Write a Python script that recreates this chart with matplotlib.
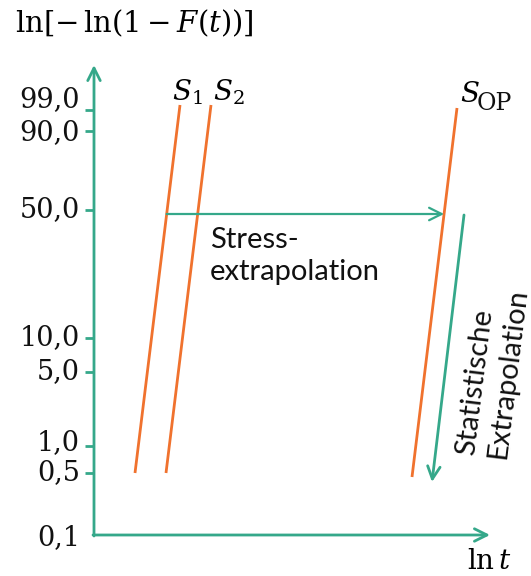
import matplotlib
matplotlib.use("Agg")
import matplotlib.pyplot as plt
import numpy as np

plt.rcParams["mathtext.fontset"] = "dejavuserif"

GREEN = "#35A88A"
ORANGE = "#F0722E"

# Schematic Weibull-paper levels (failure probability in %) and their heights on the axis
tick_labels = ["99,0", "90,0", "50,0", "10,0", "5,0", "1,0", "0,5", "0,1"]
tick_levels = [425, 404, 325, 197, 163, 89, 62, 0]
# small vertical nudges so crowded labels stay apart
label_nudge = [10, -2, 0, 0, 0, 3, 0, -3]

# Straight Weibull lines: (ln t at bottom, ln t at top), (level at bottom, level at top)
line_names = [r"$S_1$", r"$S_2$", "OP"]
line_x = [(41, 86), (72, 117), (318, 363)]
line_y = [(62, 430), (62, 430), (58, 427)]

# Stress extrapolation level and statistical extrapolation arrow
stress_level = 321
stat_x = (370, 338)
stat_y = (320, 53)

# Axis extents
x_end = 396
y_end = 470

fig = plt.figure(figsize=(5.31, 5.76), dpi=100)
ax = fig.add_axes([0, 0, 1, 1])
ax.set_xlim(-94, 531 - 94)
ax.set_ylim(-41, 535)
ax.axis("off")

arrow_kw = dict(arrowstyle="->,head_length=0.9,head_width=0.45", color=GREEN,
                lw=2.0, shrinkA=0, shrinkB=0)

# Coordinate axes
ax.annotate("", xy=(0, y_end), xytext=(0, -1), arrowprops=arrow_kw)
ax.annotate("", xy=(x_end, 0), xytext=(-1, 0), arrowprops=arrow_kw)

# Ticks and labels
for lab, lev, dy in zip(tick_labels, tick_levels, label_nudge):
    if lev > 0:
        ax.plot([-9, 0], [lev, lev], color=GREEN, lw=2.0, solid_capstyle="butt")
    ax.text(-14, lev + dy, lab, ha="right", va="center", fontsize=19.5,
            family="DejaVu Serif", color="#111111")

# Weibull lines
for xs, ys in zip(line_x, line_y):
    ax.plot(xs, ys, color=ORANGE, lw=2.0, solid_capstyle="butt")

ax.text(line_x[0][1] - 8, 443, line_names[0], ha="left", va="center", fontsize=20)
ax.text(line_x[1][1] + 2, 443, line_names[1], ha="left", va="center", fontsize=20)
# S with a full-size upright "OP" index
ax.text(line_x[2][1] + 3, 441, r"$S$", ha="left", va="center", fontsize=20)
ax.text(line_x[2][1] + 20, 432, line_names[2], ha="left", va="center",
        fontsize=17, family="DejaVu Serif", color="#111111")


def x_on(i, y):
    xs, ys = line_x[i], line_y[i]
    return np.interp(y, ys, xs)


# Stress extrapolation arrow from S1 to S_OP
ax.annotate("", xy=(x_on(2, stress_level), stress_level),
            xytext=(x_on(0, stress_level), stress_level),
            arrowprops=dict(arrow_kw, lw=1.6))
ax.text(116, 279, "Stress-\nextrapolation", ha="left", va="center",
        fontsize=21, family="Lato", linespacing=1.3, color="#111111")

# Statistical extrapolation arrow
ax.annotate("", xy=(stat_x[1], stat_y[1]), xytext=(stat_x[0], stat_y[0]),
            arrowprops=arrow_kw)
ax.text(388, 78, "Statistische\nExtrapolation", ha="left", va="center",
        multialignment="left", rotation=83, rotation_mode="anchor",
        fontsize=21, family="Lato", linespacing=1.25, color="#111111")

# Axis titles
fig.text(15 / 531, 1 - 23 / 576, r"$\ln[-\,\ln(1-F(t))]$", ha="left", va="center",
         fontsize=21)
ax.text(373, -26, r"$\ln t$", ha="left", va="center", fontsize=20)

fig.savefig("out.png", dpi=100, facecolor="white")
